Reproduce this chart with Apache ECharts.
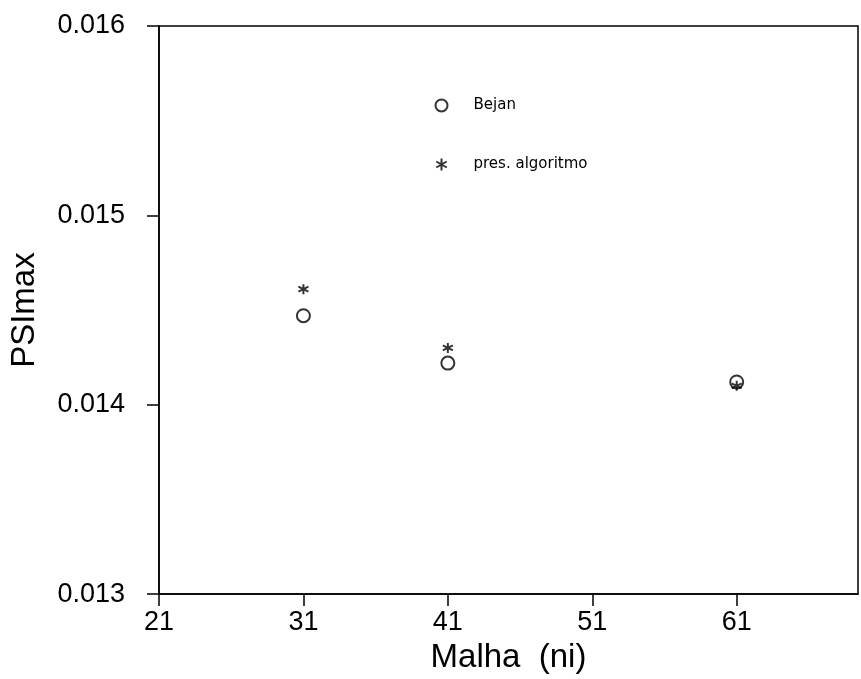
<!DOCTYPE html>
<html>
<head>
<meta charset="utf-8">
<script src="https://cdn.jsdelivr.net/npm/echarts@6/dist/echarts.min.js"></script>
<style>html,body{margin:0;padding:0;background:#fff}#c{width:861px;height:679px}</style>
</head>
<body>
<div id="c"></div>
<script>
const meshes = [31, 41, 61];
const bejan = [0.01447, 0.01422, 0.01412];
const presAlgoritmo = [0.01461, 0.01430, 0.01410];
const xTicks = [21, 31, 41, 51, 61];
const yTicks = [0.013, 0.014, 0.015, 0.016];

const font = 'Liberation Sans, Arial, sans-serif';
const chart = echarts.init(document.getElementById('c'), null, {renderer: 'canvas'});
const asterisk = 'path://M0,-1L0,1M-0.87,-0.5L0.87,0.5M-0.87,0.5L0.87,-0.5';

chart.setOption({
  animation: false,
  backgroundColor: '#fff',
  grid: {left: 156, right: 3, top: 26, bottom: 73, show: true, borderColor: '#000', borderWidth: 1.5, backgroundColor: 'transparent'},
  legend: {
    orient: 'vertical', left: 428, top: 92, itemGap: 42,
    itemWidth: 14, itemHeight: 12,
    textStyle: {fontFamily: 'DejaVu Sans, sans-serif', fontSize: 15, color: '#000', padding: [0, 0, 0, 20]},
    data: [
      {name: 'Bejan', icon: 'circle', itemStyle: {color: 'none', borderColor: '#000', borderWidth: 2}},
      {name: 'pres. algoritmo', icon: asterisk, itemStyle: {color: 'none', borderColor: '#000', borderWidth: 2}}
    ]
  },
  xAxis: {
    type: 'value', min: 21, max: 69.4,
    name: 'Malha  (ni)', nameLocation: 'middle', nameGap: 42,
    nameTextStyle: {fontFamily: font, fontSize: 33, color: '#000'},
    axisLine: {show: true, lineStyle: {color: '#000', width: 1.5}},
    axisTick: {show: true, inside: false, length: 12, customValues: xTicks, lineStyle: {color: '#000', width: 1.5}},
    axisLabel: {fontFamily: font, fontSize: 27, color: '#000', margin: 15, customValues: xTicks},
    splitLine: {show: false}
  },
  yAxis: {
    type: 'value', min: 0.013, max: 0.016, interval: 0.001,
    name: 'PSImax', nameLocation: 'middle', nameGap: 118,
    nameTextStyle: {fontFamily: font, fontSize: 33, color: '#000'},
    axisLine: {show: true, lineStyle: {color: '#000', width: 1.5}},
    axisTick: {show: true, inside: false, length: 12, lineStyle: {color: '#000', width: 1.5}},
    axisLabel: {fontFamily: font, fontSize: 27, color: '#000', margin: 34, formatter: v => v.toFixed(3)},
    splitLine: {show: false}
  },
  series: [
    {
      name: 'Bejan', type: 'scatter', symbol: 'circle', symbolSize: 13,
      itemStyle: {color: 'none', borderColor: '#000', borderWidth: 2},
      data: meshes.map((m, i) => [m, bejan[i]])
    },
    {
      name: 'pres. algoritmo', type: 'scatter', symbol: asterisk, symbolSize: 10,
      itemStyle: {color: 'none', borderColor: '#000', borderWidth: 2},
      data: meshes.map((m, i) => [m, presAlgoritmo[i]])
    }
  ]
});
</script>
</body>
</html>
